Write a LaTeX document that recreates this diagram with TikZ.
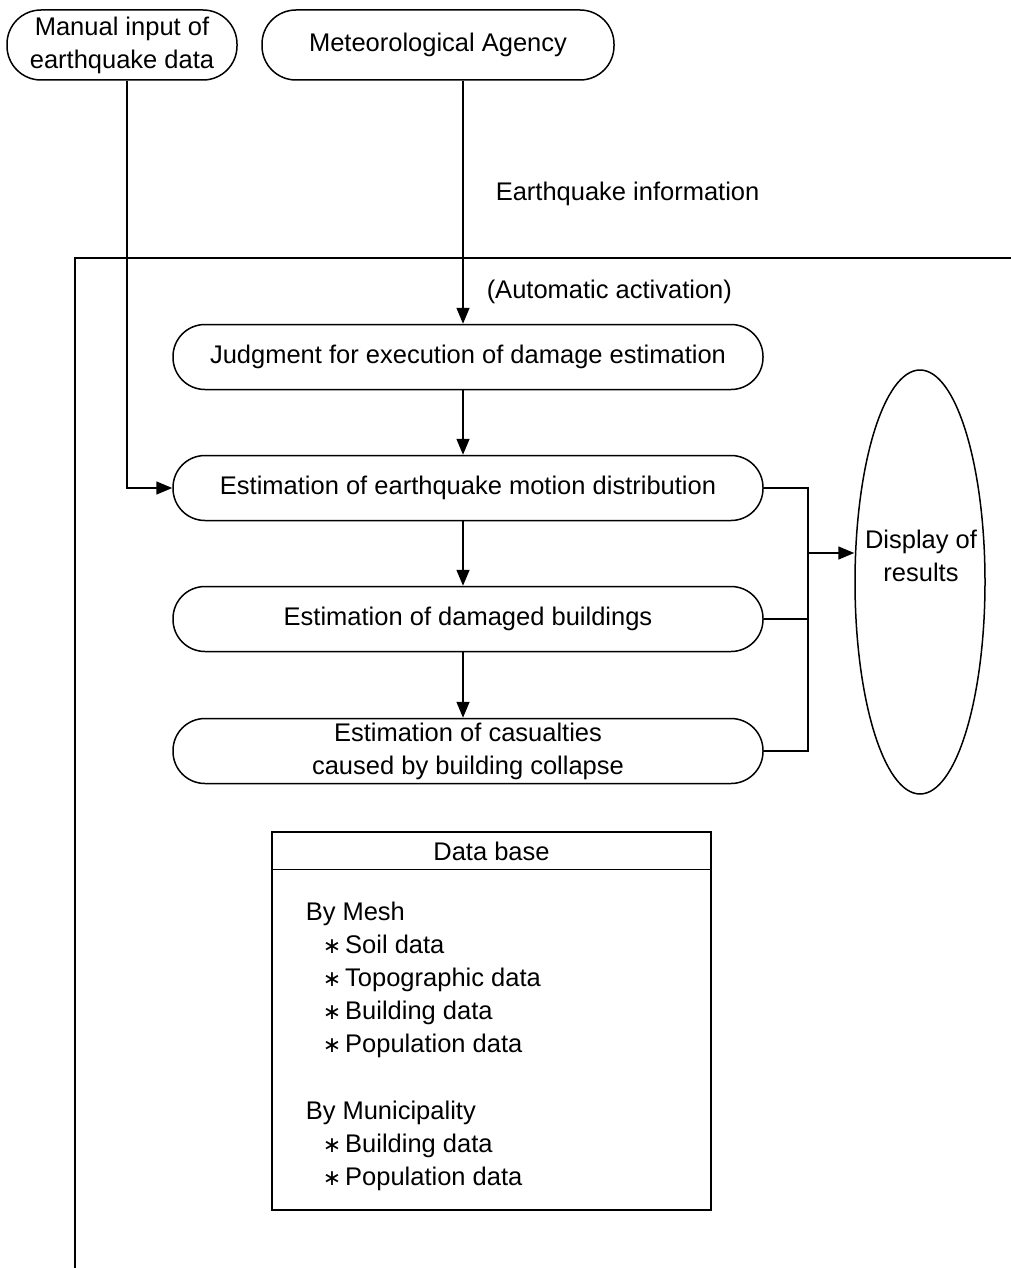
\documentclass[tikz,border=0pt]{standalone}
\usepackage{fontspec}
\setmainfont{Liberation Sans}
\newfontfamily\symfont{DejaVu Sans}
\usetikzlibrary{arrows.meta,shapes.geometric,calc}
\newcommand{\astitem}[1]{\hspace*{17pt}{\symfont\fontsize{22}{26}\selectfont ∗}\hspace{4pt}#1}
\begin{document}
\begin{tikzpicture}[x=1pt,y=-1pt,
  line width=1.5pt,
  every node/.style={font=\fontsize{25.5}{33}\selectfont},
  pill/.style={draw,rounded corners=32pt,minimum width=590pt,minimum height=65pt,align=center,inner sep=0pt},
  srcpill/.style={draw,rounded corners=34pt,minimum height=70pt,align=center,inner sep=0pt},
  flow/.style={-{Triangle[length=16pt,width=13pt]}},
  plain/.style={text=black,inner sep=0pt},
  dbline/.style={plain,anchor=base west}]
\useasboundingbox (0,0) rectangle (1011,1268);

% sources of earthquake data
\node[srcpill,minimum width=230pt] (manual) at (122,45) {Manual input of\\earthquake data};
\node[srcpill,minimum width=352pt] (jma) at (438,45) {Meteorological Agency};

% outer frame of the estimation system
\coordinate (ftl) at (75,258);
\draw (1011,258) -- (ftl) -- (75,1268);

% processing steps
\node[pill] (judge) at (468,357) {Judgment for execution of damage estimation};
\node[pill] (motion) at (468,488) {Estimation of earthquake motion distribution};
\node[pill] (bldg) at (468,619) {Estimation of damaged buildings};
\node[pill] (cas) at (468,751) {Estimation of casualties\\caused by building collapse};

% result display
\node[draw,ellipse,minimum width=130pt,minimum height=424pt,inner sep=0pt] (disp) at (920,582) {};
\node[align=center] (disptxt) at (921,556) {Display of\\results};

% labels
\node[plain,anchor=west] (eqinfo) at (495,194) {Earthquake information};
\node[plain,anchor=west] (auto) at (486,292) {(Automatic activation)};

% connectors
\coordinate (mturn) at (127,488);
\draw[flow] (jma.south -| 463,0) -- (judge.north -| 463,0);
\draw[flow] (judge.south -| 463,0) -- (motion.north -| 463,0);
\draw[flow] (motion.south -| 463,0) -- (bldg.north -| 463,0);
\draw[flow] (bldg.south -| 463,0) -- (cas.north -| 463,0);
\draw[flow] (manual.south -| mturn) -- (mturn) -- (motion.west);

\coordinate (bus) at (808,553);
\draw (motion.east) -- (motion.east -| bus) -- (cas.east -| bus) -- (cas.east);
\draw (bldg.east) -- (bldg.east -| bus);
\draw[flow] (bus) -- (disp.west |- bus);

% database
\node[draw,minimum width=439pt,minimum height=378pt,inner sep=0pt] (db) at (491.5,1021) {};
\draw ($(db.north west)+(0,38)$) -- ($(db.north east)+(0,38)$);
\node (dbtitle) at (491.5,851) {Data base};
\node[dbline] (mesh)  at (305,920) {By Mesh};
\node[dbline] (soil)  at (305,953) {\astitem{Soil data}};
\node[dbline] (topo)  at (305,986) {\astitem{Topographic data}};
\node[dbline] (mbld)  at (305,1019) {\astitem{Building data}};
\node[dbline] (mpop)  at (305,1052) {\astitem{Population data}};
\node[dbline] (muni)  at (305,1119) {By Municipality};
\node[dbline] (cbld)  at (305,1152) {\astitem{Building data}};
\node[dbline] (cpop)  at (305,1185) {\astitem{Population data}};
\end{tikzpicture}
\end{document}
